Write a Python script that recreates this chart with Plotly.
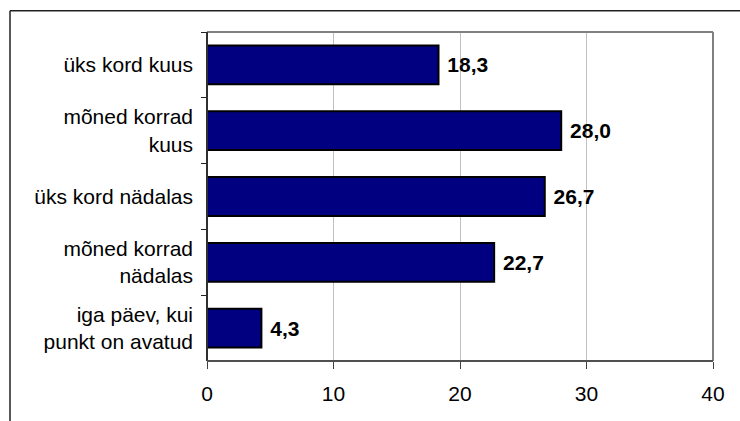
import plotly.graph_objects as go

categories = ["üks kord kuus", "mõned korrad<br>kuus", "üks kord nädalas",
              "mõned korrad<br>nädalas", "iga päev, kui<br>punkt on avatud"]
values = [18.3, 28.0, 26.7, 22.7, 4.3]
x_ticks = [0, 10, 20, 30, 40]

labels = [" " + f"{v:.1f}".replace(".", ",") for v in values]

W, H = 740, 421
L, R, T, B = 207, 27, 32, 60
pw, ph = W - L - R, H - T - B

fig = go.Figure(go.Bar(
    x=values, y=categories, orientation="h",
    marker=dict(color="#000080", line=dict(color="#000000", width=2)),
    text=labels, textposition="outside", cliponaxis=False,
    textfont=dict(family="Liberation Sans, Arial", size=21, color="#000000", weight="bold"),
    hoverinfo="skip",
))

fig.update_layout(
    width=W, height=H,
    margin=dict(l=L, r=R, t=T, b=B),
    paper_bgcolor="white", plot_bgcolor="white",
    font=dict(family="Liberation Sans, Arial", size=21, color="#000000"),
    bargap=0.41, showlegend=False,
    xaxis=dict(range=[0, 40], tickvals=x_ticks, ticktext=[str(t) for t in x_ticks],
               showgrid=True, gridcolor="#c0c0c0", gridwidth=1,
               showline=False, zeroline=False,
               ticks="outside", ticklen=7, tickcolor="#404040", tickwidth=1,
               ticklabelstandoff=7),
    yaxis=dict(autorange="reversed", type="category", tickson="boundaries",
               ticks="outside", ticklen=5, tickcolor="#202020", tickwidth=1,
               showline=False, showgrid=False, zeroline=False,
               ticklabelstandoff=13),
    shapes=[
        dict(type="line", xref="paper", yref="paper", x0=0, x1=1, y0=1, y1=1,
             line=dict(color="#808080", width=2)),
        dict(type="line", xref="paper", yref="paper", x0=1, x1=1, y0=0, y1=1,
             line=dict(color="#808080", width=2)),
        dict(type="line", xref="paper", yref="paper", x0=0, x1=0, y0=0, y1=1,
             line=dict(color="#303030", width=2)),
        dict(type="line", xref="paper", yref="paper", x0=0, x1=1, y0=0, y1=0,
             line=dict(color="#505050", width=2)),
        dict(type="line", xref="paper", yref="paper",
             x0=(10 - L) / pw, x1=1.1, y0=1 + (T - 10.7) / ph, y1=1 + (T - 10.7) / ph,
             line=dict(color="#202020", width=1.5)),
        dict(type="line", xref="paper", yref="paper",
             x0=(10 - L) / pw, x1=(10 - L) / pw, y0=-0.3, y1=1 + (T - 10.7) / ph,
             line=dict(color="#202020", width=1.5)),
    ],
)

fig.write_html("out.html", config={"displayModeBar": False},
               post_script="document.body.style.margin='0';document.body.style.overflow='hidden';")
